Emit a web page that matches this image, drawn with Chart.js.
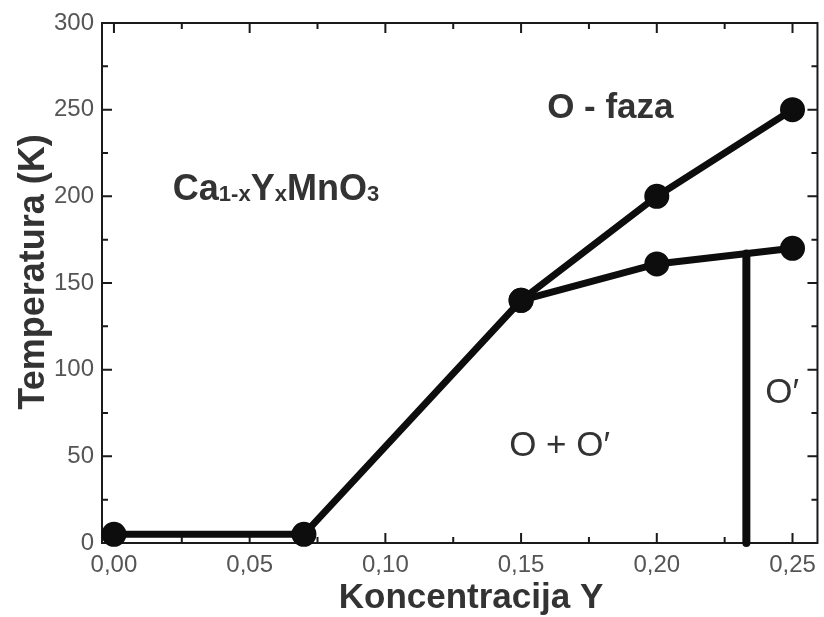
<!DOCTYPE html>
<html>
<head>
<meta charset="utf-8">
<script src="https://cdn.jsdelivr.net/npm/chart.js@4.4.1/dist/chart.umd.min.js"></script>
<style>
  html, body { margin: 0; padding: 0; background: #fff; }
  #wrap { width: 824px; height: 617px; }
</style>
</head>
<body>
<div id="wrap"><canvas id="grafico_fazni"></canvas></div>
<script>
// koncentracija Y (x) i temperatura prelaza (K)
const koncGornja = [0.00, 0.07, 0.15, 0.20, 0.25];
const tempGornja = [5, 5, 140, 200, 250];
const koncDonja = [0.15, 0.20, 0.25];
const tempDonja = [140, 161, 170];
const koncGranica = [0.233, 0.233];
const tempGranica = [0, 167];

const xTicks = [0.00, 0.05, 0.10, 0.15, 0.20, 0.25];
const yTicks = [0, 50, 100, 150, 200, 250, 300];

function tacke(xs, ys) {
    return xs.map((x, i) => ({ x: x, y: ys[i] }));
}

function zarez(v) {
    return v.toFixed(2).replace('.', ',');
}

// okvir sa unutrasnjim podeocima na sve cetiri strane
const okvir = {
    id: 'okvir',
    beforeDatasetsDraw(chart) {
        const { ctx, chartArea: a, scales } = chart;
        const sx = scales.x, sy = scales.y;
        ctx.save();
        ctx.strokeStyle = '#1a1a1a';
        ctx.lineWidth = 2;
        ctx.strokeRect(a.left, a.top, a.right - a.left, a.bottom - a.top);

        const podeok = (vals, len, horiz) => {
            vals.forEach(v => {
                ctx.beginPath();
                if (horiz) {
                    const p = sx.getPixelForValue(v);
                    ctx.moveTo(p, a.bottom); ctx.lineTo(p, a.bottom - len);
                    ctx.moveTo(p, a.top); ctx.lineTo(p, a.top + len);
                } else {
                    const p = sy.getPixelForValue(v);
                    ctx.moveTo(a.left, p); ctx.lineTo(a.left + len, p);
                    ctx.moveTo(a.right, p); ctx.lineTo(a.right - len, p);
                }
                ctx.stroke();
            });
        };
        const sredine = vals => vals.slice(1).map((v, i) => (v + vals[i]) / 2);
        podeok(xTicks, 10, true);
        podeok(sredine(xTicks), 6, true);
        podeok(yTicks, 10, false);
        podeok(sredine(yTicks), 6, false);
        ctx.restore();
    },
    afterDraw(chart) {
        const { ctx, chartArea: a, scales } = chart;
        const sx = scales.x, sy = scales.y;
        ctx.save();
        ctx.fillStyle = '#333';
        ctx.textBaseline = 'alphabetic';

        // naslovi osa
        ctx.font = 'bold 35px "Liberation Sans", Arial, sans-serif';
        ctx.textAlign = 'center';
        ctx.fillText('Koncentracija Y', 471, 608);

        ctx.save();
        ctx.translate(44, 272);
        ctx.rotate(-Math.PI / 2);
        ctx.font = 'bold 36px "Liberation Sans", Arial, sans-serif';
        ctx.fillText('Temperatura (K)', 0, 0);
        ctx.restore();

        // oznake faza
        ctx.textAlign = 'left';
        ctx.font = 'bold 35px "Liberation Sans", Arial, sans-serif';
        ctx.fillText('O - faza', sx.getPixelForValue(0.1596), sy.getPixelForValue(245));

        // formula sa indeksima
        let px = sx.getPixelForValue(0.0217);
        const py = sy.getPixelForValue(198);
        const delovi = [['Ca', 36], ['1-x', 22], ['Y', 36], ['x', 22], ['MnO', 36], ['3', 22]];
        delovi.forEach(([t, s]) => {
            ctx.font = 'bold ' + s + 'px "Liberation Sans", Arial, sans-serif';
            ctx.fillText(t, px, py + (s < 30 ? 1 : 0));
            px += ctx.measureText(t).width;
        });

        ctx.font = '35px "Liberation Sans", Arial, sans-serif';
        ctx.fillText('O + O\u2032', sx.getPixelForValue(0.1456), sy.getPixelForValue(50));
        ctx.fillText('O\u2032', sx.getPixelForValue(0.240), sy.getPixelForValue(81));
        ctx.restore();
    }
};

const linija = {
    borderColor: '#0d0d0d',
    backgroundColor: '#0d0d0d',
    borderWidth: 7,
    pointRadius: 9,
    pointHoverRadius: 9,
    showLine: true,
    clip: false
};

const ctx = document.getElementById('grafico_fazni');
const grafik = new Chart(ctx, {
    type: 'scatter',
    data: {
        datasets: [
            Object.assign({ label: 'gornja', data: tacke(koncGornja, tempGornja) }, linija),
            Object.assign({ label: 'donja', data: tacke(koncDonja, tempDonja) }, linija),
            Object.assign({ label: 'granica', data: tacke(koncGranica, tempGranica) }, linija,
                { pointRadius: 0, pointHoverRadius: 0, borderWidth: 8, borderCapStyle: 'round' })
        ]
    },
    options: {
        responsive: true,
        maintainAspectRatio: false,
        animation: false,
        layout: { padding: { top: 23, right: 4, left: 0, bottom: 0 }, autoPadding: false },
        plugins: {
            legend: { display: false },
            tooltip: { enabled: false }
        },
        scales: {
            x: {
                type: 'linear',
                min: -0.0044,
                max: 0.2592,
                afterBuildTicks: s => { s.ticks = xTicks.map(v => ({ value: v })); },
                afterFit: s => { s.height = 74; },
                grid: { display: false, drawTicks: false },
                border: { display: false },
                ticks: {
                    callback: v => zarez(v),
                    color: '#555',
                    padding: 8,
                    maxRotation: 0,
                    font: { family: '"Liberation Sans", Arial, sans-serif', size: 24 }
                }
            },
            y: {
                type: 'linear',
                min: 0,
                max: 300,
                afterBuildTicks: s => { s.ticks = yTicks.map(v => ({ value: v })); },
                afterFit: s => { s.width = 102; },
                grid: { display: false, drawTicks: false },
                border: { display: false },
                ticks: {
                    color: '#555',
                    padding: 8,
                    font: { family: '"Liberation Sans", Arial, sans-serif', size: 24 }
                }
            }
        }
    },
    plugins: [okvir]
});
</script>
</body>
</html>
